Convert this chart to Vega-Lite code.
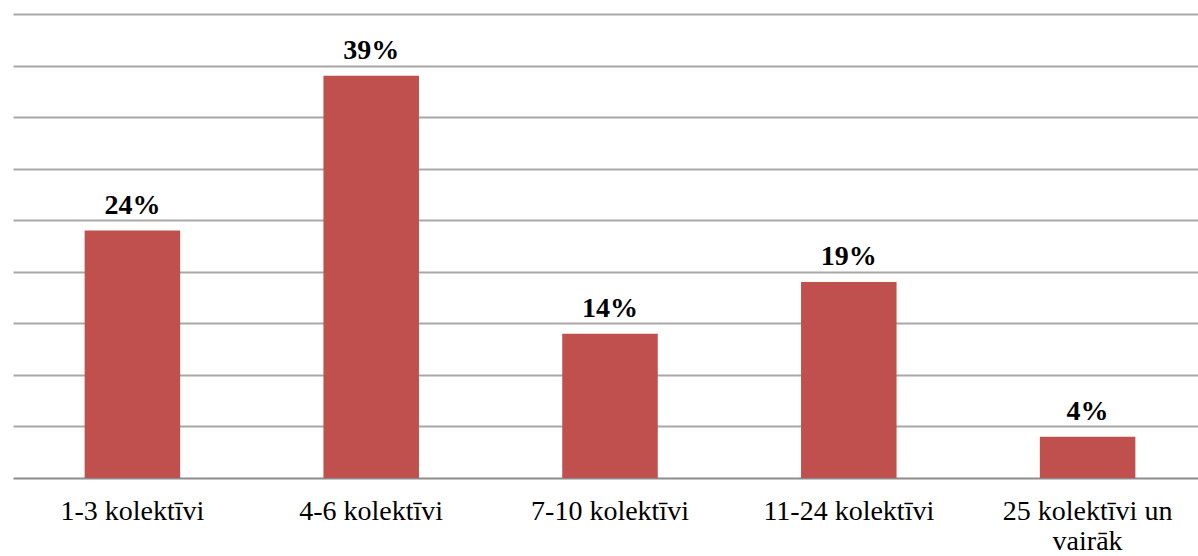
{
  "$schema": "https://vega.github.io/schema/vega-lite/v6.json",
  "autosize": "none",
  "padding": {"left": 13, "top": 14, "right": 0, "bottom": 78},
  "width": 1194,
  "height": 464,
  "background": "white",
  "data": {
    "values": [
      {"category": "1-3 kolektīvi", "value": 0.24},
      {"category": "4-6 kolektīvi", "value": 0.39},
      {"category": "7-10 kolektīvi", "value": 0.14},
      {"category": "11-24 kolektīvi", "value": 0.19},
      {"category": "25 kolektīvi un vairāk", "value": 0.04}
    ]
  },
  "config": {"view": {"stroke": null}},
  "encoding": {
    "x": {
      "field": "category",
      "type": "nominal",
      "sort": null,
      "scale": {"paddingInner": 0.6, "paddingOuter": 0.3},
      "axis": {
        "title": null,
        "labelAngle": 0,
        "labelFont": "Liberation Serif",
        "labelFontSize": 28,
        "labelColor": "#000000",
        "labelBaseline": "alphabetic",
        "labelPadding": 41,
        "labelLineHeight": 30,
        "labelLimit": 0,
        "labelExpr": "datum.label == '25 kolektīvi un vairāk' ? ['25 kolektīvi un', 'vairāk'] : datum.label",
        "ticks": false,
        "tickSize": 0,
        "domain": true,
        "domainColor": "#8c8c8c",
        "domainWidth": 2,
        "grid": false
      }
    },
    "y": {
      "field": "value",
      "type": "quantitative",
      "scale": {"domain": [0, 0.45], "nice": false},
      "axis": {
        "title": null,
        "labels": false,
        "ticks": false,
        "domain": false,
        "grid": true,
        "values": [0.05, 0.1, 0.15, 0.2, 0.25, 0.3, 0.35, 0.4, 0.45],
        "gridColor": "#a8a8a8",
        "gridWidth": 2
      }
    }
  },
  "layer": [
    {"mark": {"type": "bar", "color": "#C0504D"}},
    {
      "mark": {
        "type": "text",
        "font": "Liberation Serif",
        "fontSize": 28,
        "fontWeight": "bold",
        "color": "#000000",
        "baseline": "alphabetic",
        "dy": -17
      },
      "encoding": {"text": {"field": "value", "type": "quantitative", "format": ".0%"}}
    }
  ]
}
